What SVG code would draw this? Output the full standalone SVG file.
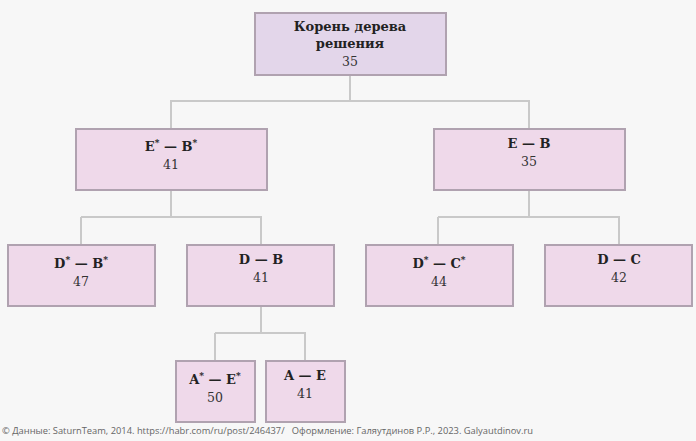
<svg xmlns="http://www.w3.org/2000/svg" width="696" height="441" viewBox="0 0 696 441">
<style>
.bg{fill:#f7f7f7}
.box{fill:#efd9ea;stroke:#b0a2b0;stroke-width:2}
.root{fill:#e3d6ea}
.t{font-family:"DejaVu Serif","Liberation Serif",serif;font-size:13px;font-weight:bold;fill:#222;text-anchor:middle}
.v{font-family:"DejaVu Serif","Liberation Serif",serif;font-size:12.5px;fill:#333;text-anchor:middle}
.s{font-size:9px}
.c{fill:none;stroke:#c9c9c9;stroke-width:2}
.f{font-family:"Open Sans","Liberation Sans",sans-serif;font-size:9.5px;fill:#666}
</style>
<rect class="bg" width="696" height="441"/>
<g id="connectors">
<path class="c" d="M350 75V101M170 101H530M171 101V129M529 101V129"/>
<path class="c" d="M171 190V217M81 217H262M81 217V245M261 217V245"/>
<path class="c" d="M529 190V217M438 217H620M438 217V245M619 217V245"/>
<path class="c" d="M261 306V333M215 333H306M215 333V361M305 333V361"/>
</g>
<g id="root">
<rect class="box root" x="255" y="13" width="191" height="62"/>
<text class="t" x="350" y="31">Корень дерева</text>
<text class="t" x="350" y="48">решения</text>
<text class="v" x="350" y="66">35</text>
</g>
<g id="n-EsBs">
<rect class="box" x="76" y="129" width="191" height="61"/>
<text class="t" x="171" y="151">E<tspan class="s" dy="-5">*</tspan><tspan dy="5"> — B</tspan><tspan class="s" dy="-5">*</tspan></text>
<text class="v" x="171" y="169">41</text>
</g>
<g id="n-EB">
<rect class="box" x="434" y="129" width="191" height="61"/>
<text class="t" x="529" y="148">E — B</text>
<text class="v" x="529" y="166">35</text>
</g>
<g id="n-DsBs">
<rect class="box" x="8" y="245" width="147" height="61"/>
<text class="t" x="81" y="268">D<tspan class="s" dy="-5">*</tspan><tspan dy="5"> — B</tspan><tspan class="s" dy="-5">*</tspan></text>
<text class="v" x="81" y="286">47</text>
</g>
<g id="n-DB">
<rect class="box" x="187" y="245" width="147" height="61"/>
<text class="t" x="261" y="264">D — B</text>
<text class="v" x="261" y="282">41</text>
</g>
<g id="n-DsCs">
<rect class="box" x="366" y="245" width="147" height="61"/>
<text class="t" x="439" y="268">D<tspan class="s" dy="-5">*</tspan><tspan dy="5"> — C</tspan><tspan class="s" dy="-5">*</tspan></text>
<text class="v" x="439" y="286">44</text>
</g>
<g id="n-DC">
<rect class="box" x="545" y="245" width="147" height="61"/>
<text class="t" x="619" y="264">D — C</text>
<text class="v" x="619" y="282">42</text>
</g>
<g id="n-AsEs">
<rect class="box" x="176" y="361" width="79" height="61"/>
<text class="t" x="215" y="384">A<tspan class="s" dy="-5">*</tspan><tspan dy="5"> — E</tspan><tspan class="s" dy="-5">*</tspan></text>
<text class="v" x="215" y="402">50</text>
</g>
<g id="n-AE">
<rect class="box" x="266" y="361" width="79" height="61"/>
<text class="t" x="305" y="380">A — E</text>
<text class="v" x="305" y="398">41</text>
</g>
<text class="f" x="2" y="434" textLength="531" lengthAdjust="spacingAndGlyphs">© Данные: SaturnTeam, 2014. https://habr.com/ru/post/246437/&#160;&#160; Оформление: Галяутдинов Р.Р., 2023. Galyautdinov.ru</text>
</svg>
